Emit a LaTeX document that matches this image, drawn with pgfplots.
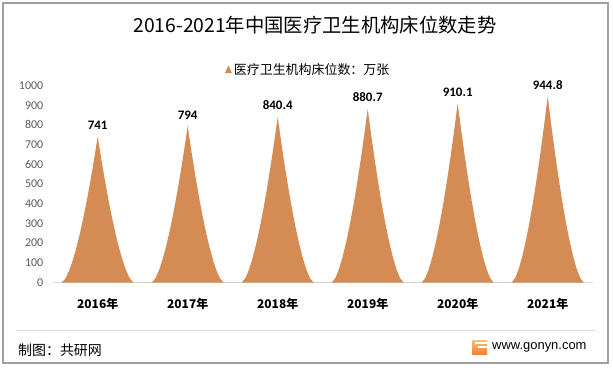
\documentclass[border=0pt]{standalone}
\usepackage{pgfplots}
\pgfplotsset{compat=1.18}
\usepackage{fontspec}
\setmainfont{Carlito}
\newfontfamily\cjk{Noto Sans CJK SC}
\newfontfamily\arial{Liberation Sans}
\definecolor{spike}{RGB}{212,139,84}
\definecolor{ticktxt}{RGB}{89,89,89}
\definecolor{frame}{RGB}{160,160,160}
\definecolor{baseln}{RGB}{217,217,217}
\begin{document}
\begin{tikzpicture}[x=1bp,y=1bp]
\useasboundingbox (0,0) rectangle (613,371);
\draw[frame, line width=1.3bp] (3,8) rectangle (608,368);
\node[font=\cjk\fontsize{19.4}{22}\selectfont] at (315,346) {2016-2021年中国医疗卫生机构床位数走势};
\begin{axis}[
 at={(52.7bp,88.5bp)}, anchor=south west,
 scale only axis, width=540bp, height=197bp,
 xmin=-0.5, xmax=5.5, ymin=0, ymax=1000,
 ytick={0,100,...,1000},
 xtick={0,...,5},
 xticklabels={2016年,2017年,2018年,2019年,2020年,2021年},
 axis x line*=bottom, axis y line*=left,
 y axis line style={draw=none},
 x axis line style={draw=baseln, line width=0.75bp},
 major tick length=0pt,
 tick style={draw=none},
 yticklabel style={font=\fontsize{12}{14}\selectfont, text=ticktxt, xshift=-6bp},
 xticklabel style={font=\cjk\bfseries\fontsize{12}{14}\selectfont, yshift=-12bp},
 /pgf/number format/assume math mode=true,
 /pgf/number format/set thousands separator={},
 clip=false,
 legend style={at={(0.473,1.081)}, anchor=center, draw=none, fill=none, font=\cjk\fontsize{13}{15}\selectfont, inner sep=0pt},
 legend cell align=left,
]
\addplot[fill=spike, draw=none, legend image code/.code={\fill[spike] (0bp,-3.5bp) -- (7bp,-3.5bp) -- (3.5bp,4bp) -- cycle;}] coordinates {
(-0.40,0) (-0.36,18.6) (-0.32,56.5) (-0.28,108.0) (-0.24,171.0) (-0.20,244.5) (-0.16,327.2) (-0.12,418.7) (-0.08,518.6) (-0.04,626.1) (0,741) (0.04,626.1) (0.08,518.6) (0.12,418.7) (0.16,327.2) (0.20,244.5) (0.24,171.0) (0.28,108.0) (0.32,56.5) (0.36,18.6) (0.40,0)
(0.60,0) (0.64,19.9) (0.68,60.5) (0.72,115.7) (0.76,183.3) (0.80,261.9) (0.84,350.6) (0.88,448.7) (0.92,555.6) (0.96,670.9) (1,794) (1.04,670.9) (1.08,555.6) (1.12,448.7) (1.16,350.6) (1.20,261.9) (1.24,183.3) (1.28,115.7) (1.32,60.5) (1.36,19.9) (1.40,0)
(1.60,0) (1.64,21.1) (1.68,64.0) (1.72,122.5) (1.76,194.0) (1.80,277.3) (1.84,371.1) (1.88,474.9) (1.92,588.1) (1.96,710.1) (2,840.4) (2.04,710.1) (2.08,588.1) (2.12,474.9) (2.16,371.1) (2.20,277.3) (2.24,194.0) (2.28,122.5) (2.32,64.0) (2.36,21.1) (2.40,0)
(2.60,0) (2.64,22.1) (2.68,67.1) (2.72,128.3) (2.76,203.3) (2.80,290.5) (2.84,388.9) (2.88,497.7) (2.92,616.3) (2.96,744.1) (3,880.7) (3.04,744.1) (3.08,616.3) (3.12,497.7) (3.16,388.9) (3.20,290.5) (3.24,203.3) (3.28,128.3) (3.32,67.1) (3.36,22.1) (3.40,0)
(3.60,0) (3.64,22.8) (3.68,69.4) (3.72,132.6) (3.76,210.1) (3.80,300.2) (3.84,401.9) (3.88,514.3) (3.92,636.9) (3.96,768.9) (4,910.1) (4.04,768.9) (4.08,636.9) (4.12,514.3) (4.16,401.9) (4.20,300.2) (4.24,210.1) (4.28,132.6) (4.32,69.4) (4.36,22.8) (4.40,0)
(4.60,0) (4.64,23.7) (4.68,72.0) (4.72,137.7) (4.76,218.1) (4.80,311.7) (4.84,417.2) (4.88,533.9) (4.92,661.2) (4.96,798.3) (5,944.8) (5.04,798.3) (5.08,661.2) (5.12,533.9) (5.16,417.2) (5.20,311.7) (5.24,218.1) (5.28,137.7) (5.32,72.0) (5.36,23.7) (5.40,0)
};
\addlegendentry{医疗卫生机构床位数：万张}
\addplot[draw=none, mark=none, forget plot, point meta=explicit symbolic,
 nodes near coords, nodes near coords style={anchor=south, font=\bfseries\fontsize{13}{15}\selectfont, text=black, yshift=3.5bp}]
 coordinates {(0,741)[741] (1,794)[794] (2,840.4)[840.4] (3,880.7)[880.7] (4,910.1)[910.1] (5,944.8)[944.8]};
\end{axis}
\draw[baseln, line width=0.75bp] (16,41) -- (595,41);
\node[anchor=west, font=\cjk\fontsize{14}{16}\selectfont, inner sep=0pt] at (18,21) {制图：共研网};
\shade[top color={rgb,255:red,248;green,190;blue,120}, bottom color={rgb,255:red,240;green,130;blue,60}] (472,17) rectangle (487,31);
\fill[white] (478,23) rectangle (487,25.2);
\fill[white] (474.5,27.5) rectangle (487,29);
\node[anchor=west, font=\arial\fontsize{13}{15}\selectfont, inner sep=0pt] at (492,24) {www.gonyn.com};
\end{tikzpicture}
\end{document}
